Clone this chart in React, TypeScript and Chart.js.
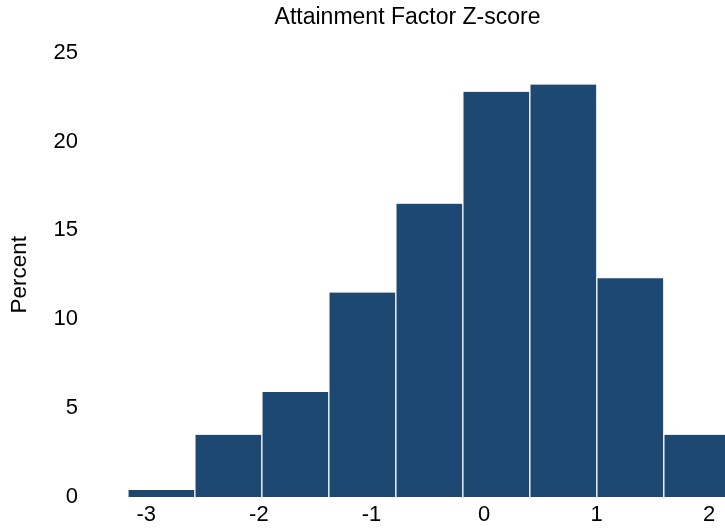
import React, { useEffect, useRef } from "react";
import { Chart, registerables } from "chart.js";

Chart.register(...registerables);

const binCenters: number[] = [-2.866, -2.271, -1.676, -1.081, -0.486, 0.109, 0.704, 1.299, 1.894];
const percents: number[] = [0.4, 3.5, 5.9, 11.5, 16.5, 22.8, 23.2, 12.3, 3.5];
const xTicks: number[] = [-3, -2, -1, 0, 1, 2];
const yTicks: number[] = [0, 5, 10, 15, 20, 25];
const titleText = "Attainment Factor Z-score";
const yTitle = "Percent";

const FONT = "'Liberation Sans', Arial, Helvetica, sans-serif";

export default function App() {
  const ref = useRef<HTMLCanvasElement | null>(null);
  useEffect(() => {
    document.body.style.margin = "0";
    if (!ref.current) return;
    const chart = new Chart(ref.current, {
      type: "bar",
      data: {
        datasets: [
          {
            data: binCenters.map((x, i) => ({ x, y: percents[i] })),
            backgroundColor: "#1c4872",
            borderColor: "#ffffff",
            borderWidth: { left: 1, right: 1, top: 0, bottom: 0 },
            borderSkipped: false,
            barPercentage: 1,
            categoryPercentage: 1,
          },
        ],
      },
      options: {
        animation: false,
        responsive: true,
        maintainAspectRatio: false,
        layout: { padding: 0 },
        plugins: {
          legend: { display: false },
          tooltip: { enabled: false },
          title: {
            display: true,
            text: titleText,
            fullSize: false,
            color: "#000000",
            font: { family: FONT, size: 23, weight: "normal" },
            padding: { top: 4, bottom: 21 },
          },
        },
        scales: {
          x: {
            type: "linear",
            min: -3.5,
            max: 2.14,
            offset: false,
            grid: { display: false, drawTicks: false },
            border: { display: false },
            afterBuildTicks: (s: any) => {
              s.ticks = xTicks.map((v) => ({ value: v }));
            },
            afterFit: (s: any) => {
              s.height = 32;
            },
            ticks: {
              color: "#000000",
              padding: 5,
              maxRotation: 0,
              font: { family: FONT, size: 22 },
            },
          },
          y: {
            min: 0,
            max: 25,
            grid: { display: false, drawTicks: false },
            border: { display: false },
            afterBuildTicks: (s: any) => {
              s.ticks = yTicks.map((v) => ({ value: v }));
            },
            afterFit: (s: any) => {
              s.width = 90;
            },
            ticks: {
              color: "#000000",
              padding: 12,
              font: { family: FONT, size: 22 },
            },
            title: {
              display: true,
              text: yTitle,
              color: "#000000",
              font: { family: FONT, size: 22.5 },
              padding: { top: 6, bottom: 0 },
            },
          },
        },
      },
    });
    return () => chart.destroy();
  }, []);
  return (
    <div style={{ width: 725, height: 529, position: "relative" }}>
      <canvas ref={ref} />
    </div>
  );
}
